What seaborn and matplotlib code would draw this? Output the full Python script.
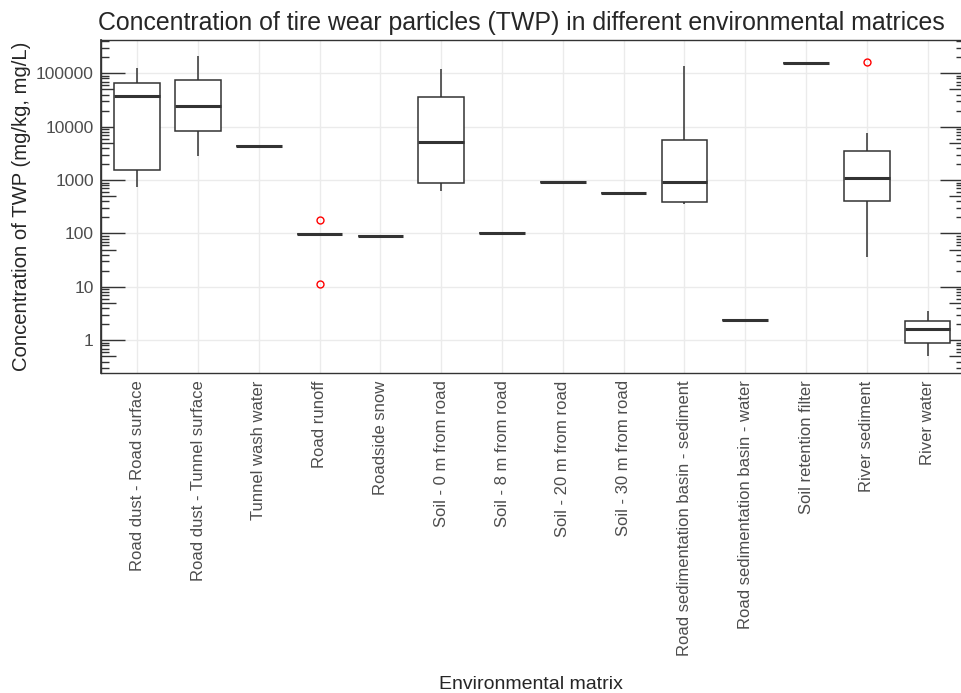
import numpy as np
import pandas as pd
import matplotlib
matplotlib.use("Agg")
import matplotlib.pyplot as plt
import seaborn as sns

# TWP concentrations per environmental matrix (mg/kg or mg/L)
categories = [
    "Road dust - Road surface",
    "Road dust - Tunnel surface",
    "Tunnel wash water",
    "Road runoff",
    "Roadside snow",
    "Soil - 0 m from road",
    "Soil - 8 m from road",
    "Soil - 20 m from road",
    "Soil - 30 m from road",
    "Road sedimentation basin - sediment",
    "Road sedimentation basin - water",
    "Soil retention filter",
    "River sediment",
    "River water",
]
road_surface = [752, 1525, 37600, 65800, 127000]
tunnel_surface = [2870, 8200, 24400, 74000, 214000]
tunnel_wash = [4300]
road_runoff = [11.5, 96, 96, 96, 179]
roadside_snow = [90]
soil_0m = [617, 884, 5160, 36000, 120000]
soil_8m = [101]
soil_20m = [910]
soil_30m = [566]
basin_sediment = [357, 384, 910, 5710, 137000]
basin_water = [2.37]
retention_filter = [156000]
river_sediment = [36.8, 406, 406, 1110, 1110, 3510, 3510, 7720, 161000]
river_water = [0.51, 0.88, 1.65, 2.30, 3.54]

y_breaks = [1, 10, 100, 1000, 10000, 100000]

values = [road_surface, tunnel_surface, tunnel_wash, road_runoff, roadside_snow,
          soil_0m, soil_8m, soil_20m, soil_30m, basin_sediment, basin_water,
          retention_filter, river_sediment, river_water]
rows = []
for cat, vals in zip(categories, values):
    for v in vals:
        rows.append({"matrix": cat, "conc": v})
df = pd.DataFrame(rows)

sns.set_theme(style="white")
plt.rcParams["font.family"] = ["Liberation Sans", "DejaVu Sans"]

fig = plt.figure(figsize=(9.62, 6.93), dpi=100)
ax = fig.add_axes([0.1047, 0.4622, 0.8975, 0.4801])

edge = "#333333"
sns.boxplot(data=df, x="matrix", y="conc", order=categories, log_scale=True,
            color="white", linecolor=edge, linewidth=1.1, width=0.75,
            showcaps=False, ax=ax,
            medianprops={"linewidth": 2.2},
            flierprops={"marker": "o", "markerfacecolor": "none",
                        "markeredgecolor": "red", "markersize": 5,
                        "markeredgewidth": 1})

ax.set_yticks(y_breaks, labels=[str(b) for b in y_breaks])
minor = [m * 10.0 ** k for k in range(-1, 6) for m in (2, 3, 4, 6, 7, 8, 9)]
ax.set_yticks(minor, minor=True)
ax.tick_params(axis="y", which="major", direction="in", length=17, width=1,
               color=edge, left=True, right=True, labelsize=12.5,
               labelcolor="#4D4D4D", pad=5)
ax.tick_params(axis="y", which="minor", direction="in", length=6, width=1,
               color=edge, left=True, right=True)
ax.tick_params(axis="x", direction="out", length=4, width=1, color=edge,
               labelsize=12, labelcolor="#4D4D4D", labelrotation=90, pad=1.5)

# mid-length log ticks at 5 x 10^k on both sides
mids = [5 * 10.0 ** k for k in range(-1, 6)]
for side in ("left", "right"):
    sec = ax.secondary_yaxis(side)
    sec.set_yticks(mids, labels=[""] * len(mids))
    sec.set_yticks([], minor=True)
    sec.tick_params(direction="in", length=11, width=1, color=edge)
    sec.spines[side].set_color(edge)

ax.set_xlim(-0.6, len(categories) - 0.4)
ax.set_ylim(10 ** -0.607, 10 ** 5.624)

ax.grid(True, which="major", color="#EBEBEB", linewidth=1)
ax.set_axisbelow(True)
for s in ax.spines.values():
    s.set_color(edge)
    s.set_linewidth(1)

ax.set_title("Concentration of tire wear particles (TWP) in different environmental matrices",
             loc="left", fontsize=17.9, pad=7, x=-0.003)
ax.set_ylabel("Concentration of TWP (mg/kg, mg/L)", fontsize=14.6)
ax.yaxis.set_label_coords(-0.081, 0.5)
ax.set_xlabel("Environmental matrix", fontsize=14)
ax.xaxis.set_label_coords(0.498, -0.936)
ax.xaxis.label.set_va("center")

fig.savefig("out.png", dpi=100)
